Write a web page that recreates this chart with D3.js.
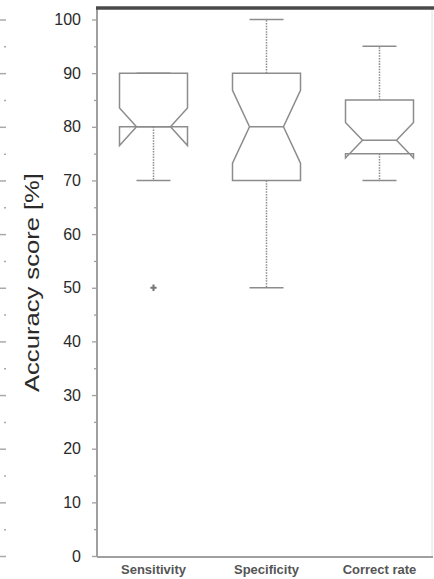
<!DOCTYPE html>
<html>
<head>
<meta charset="utf-8">
<script src="https://cdn.jsdelivr.net/npm/d3@7"></script>
<style>
  body { margin: 0; background: #fff; }
  svg { display: block; }
  text { font-family: "Liberation Sans", Arial, sans-serif; }
</style>
</head>
<body>
<svg id="mainsvg" width="434" height="579"></svg>
<script>
// values
var categories = ["Sensitivity", "Specificity", "Correct rate"];
var q1 = [80, 70, 75];
var median = [80, 80, 77.5];
var q3 = [90, 90, 85];
var whiskerLo = [70, 50, 70];
var whiskerHi = [90, 100, 95];
var notchLo = [76.5, 73.2, 74.2];
var notchHi = [83.5, 86.8, 80.8];
var outliers = [[50], [], []];
var yTicks = [0, 10, 20, 30, 40, 50, 60, 70, 80, 90, 100];
var yMinor = [5, 15, 25, 35, 45, 55, 65, 75, 85, 95];

var svg = d3.select("#mainsvg");
var plotLeft = 97, plotRight = 433, plotTop = 8, plotBottom = 557;
var boxW = 68, capW = 34;

var y = d3.scaleLinear().domain([0, 100]).range([556, 19.5]);
var x = d3.scalePoint().domain(categories).range([plotLeft, 436]).padding(0.5);

var boxColor = "#8c8c8c";

// partial axis of the neighbouring panel at the left edge
var edge = svg.append("g").attr("transform", "translate(6,0)");
edge.call(d3.axisLeft(y).tickValues(yTicks).tickSize(6).tickFormat(""));
edge.append("g").call(d3.axisLeft(y).tickValues(yMinor).tickSize(2).tickFormat(""));
edge.selectAll(".domain").remove();
edge.selectAll("line").attr("stroke", "#aaa").attr("stroke-width", 1.5);

// frame
svg.append("line")
  .attr("x1", plotRight - 1).attr("x2", plotRight - 1)
  .attr("y1", plotTop).attr("y2", plotBottom)
  .attr("stroke", "#e2e2e2").attr("stroke-width", 1);
svg.append("line")
  .attr("x1", plotLeft).attr("x2", plotRight)
  .attr("y1", plotBottom).attr("y2", plotBottom)
  .attr("stroke", "#a0a0a0").attr("stroke-width", 2);

// y axis
var yAxis = svg.append("g").attr("transform", "translate(" + plotLeft + ",0)");
yAxis.call(d3.axisLeft(y).tickValues(yTicks).tickSize(5).tickPadding(11));
yAxis.append("g").call(d3.axisLeft(y).tickValues(yMinor).tickSize(3).tickFormat(""));
yAxis.selectAll("g g .domain").remove();
yAxis.select(".domain")
  .attr("d", "M0," + plotTop + "V" + plotBottom)
  .attr("stroke", "#a0a0a0").attr("stroke-width", 2);
yAxis.selectAll("line").attr("stroke", "#a0a0a0").attr("stroke-width", 1.3);
yAxis.selectAll("text")
  .attr("font-size", 16).attr("fill", "#2a2a2a")
  .style("font-family", "'Liberation Sans', Arial, sans-serif");

svg.append("line")
  .attr("x1", plotLeft - 1).attr("x2", 434)
  .attr("y1", plotTop).attr("y2", plotTop)
  .attr("stroke", "#4a4a4a").attr("stroke-width", 3.5);

svg.append("text")
  .attr("transform", "translate(39," + (173 + 392) / 2 + ") rotate(-90)")
  .attr("text-anchor", "middle")
  .attr("font-size", 21)
  .attr("textLength", 219)
  .attr("lengthAdjust", "spacingAndGlyphs")
  .attr("fill", "#2a2a2a")
  .text("Accuracy score [%]");

// x labels
svg.selectAll(".xlab")
  .data(categories)
  .enter()
  .append("text")
  .attr("class", "xlab")
  .attr("x", function (d) { return x(d); })
  .attr("y", 574)
  .attr("text-anchor", "middle")
  .attr("font-size", 13)
  .attr("font-weight", "bold")
  .attr("fill", "#555")
  .text(function (d) { return d; });

var line = d3.line()
  .x(function (d) { return d[0]; })
  .y(function (d) { return d[1]; });

var boxes = svg.selectAll(".box")
  .data(categories)
  .enter()
  .append("g")
  .attr("class", "box");

// whiskers
boxes.append("line")
  .attr("x1", function (d) { return x(d); })
  .attr("x2", function (d) { return x(d); })
  .attr("y1", function (d, i) { return y(q3[i]); })
  .attr("y2", function (d, i) { return y(whiskerHi[i]); })
  .attr("stroke", boxColor).attr("stroke-width", 1.5)
  .attr("stroke-dasharray", "1.5,1.2");
boxes.append("line")
  .attr("x1", function (d) { return x(d); })
  .attr("x2", function (d) { return x(d); })
  .attr("y1", function (d, i) { return y(q1[i]); })
  .attr("y2", function (d, i) { return y(whiskerLo[i]); })
  .attr("stroke", boxColor).attr("stroke-width", 1.5)
  .attr("stroke-dasharray", "1.5,1.2");
boxes.append("line")
  .attr("x1", function (d) { return x(d) - capW / 2; })
  .attr("x2", function (d) { return x(d) + capW / 2; })
  .attr("y1", function (d, i) { return y(whiskerHi[i]); })
  .attr("y2", function (d, i) { return y(whiskerHi[i]); })
  .attr("stroke", boxColor).attr("stroke-width", 1.5);
boxes.append("line")
  .attr("x1", function (d) { return x(d) - capW / 2; })
  .attr("x2", function (d) { return x(d) + capW / 2; })
  .attr("y1", function (d, i) { return y(whiskerLo[i]); })
  .attr("y2", function (d, i) { return y(whiskerLo[i]); })
  .attr("stroke", boxColor).attr("stroke-width", 1.5);

// notched box outline
boxes.append("path")
  .attr("d", function (d, i) {
    var cx = x(d);
    var l = cx - boxW / 2, r = cx + boxW / 2;
    var il = cx - boxW / 4, ir = cx + boxW / 4;
    return line([
      [l, y(q1[i])], [l, y(notchLo[i])], [il, y(median[i])], [l, y(notchHi[i])],
      [l, y(q3[i])], [r, y(q3[i])], [r, y(notchHi[i])], [ir, y(median[i])],
      [r, y(notchLo[i])], [r, y(q1[i])]
    ]) + "Z";
  })
  .attr("fill", "none")
  .attr("stroke", boxColor).attr("stroke-width", 1.5)
  .attr("stroke-linejoin", "miter");

// median
boxes.append("line")
  .attr("x1", function (d) { return x(d) - boxW / 4; })
  .attr("x2", function (d) { return x(d) + boxW / 4; })
  .attr("y1", function (d, i) { return y(median[i]); })
  .attr("y2", function (d, i) { return y(median[i]); })
  .attr("stroke", boxColor).attr("stroke-width", 1.5);

// outliers as "+"
var sym = d3.symbol().type(d3.symbolCross).size(22);
boxes.each(function (d, i) {
  d3.select(this).selectAll(".out")
    .data(outliers[i])
    .enter()
    .append("path")
    .attr("class", "out")
    .attr("transform", function (v) { return "translate(" + x(d) + "," + y(v) + ")"; })
    .attr("d", sym)
    .attr("fill", "#777");
});
</script>
</body>
</html>
